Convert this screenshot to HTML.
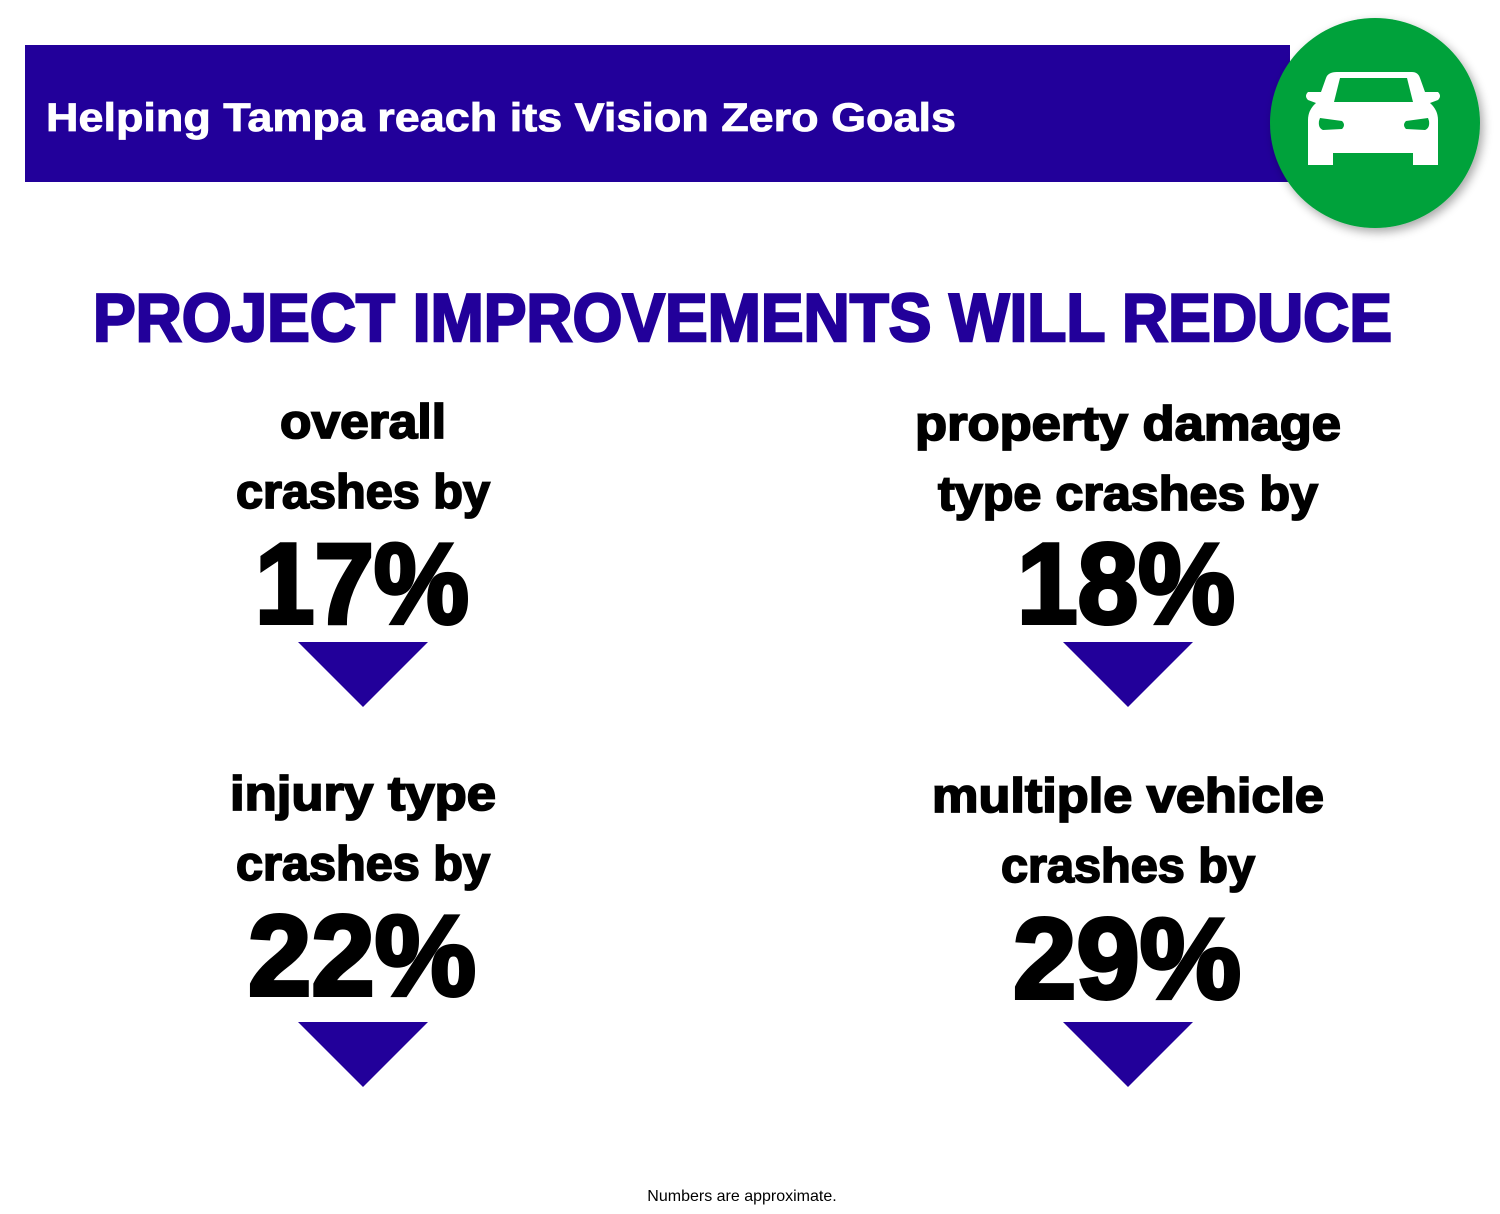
<!DOCTYPE html>
<html><head><meta charset="utf-8"><style>
html,body{margin:0;padding:0;background:#fff;}
svg{display:block;}
text{font-family:"Liberation Sans",sans-serif;font-weight:bold;}
</style></head><body>
<svg width="1500" height="1214" viewBox="0 0 1500 1214" xmlns="http://www.w3.org/2000/svg">
<defs>
<filter id="sh" x="-20%" y="-20%" width="140%" height="140%"><feGaussianBlur in="SourceAlpha" stdDeviation="5"/><feOffset dx="3" dy="4"/><feComponentTransfer><feFuncA type="linear" slope="0.35"/></feComponentTransfer><feMerge><feMergeNode/><feMergeNode in="SourceGraphic"/></feMerge></filter>
</defs>
<rect x="25" y="45" width="1265" height="137" fill="#22009a"/>
<text x="46" y="131" font-size="40" fill="#fff" stroke="#fff" stroke-width="0.8" textLength="910" lengthAdjust="spacingAndGlyphs">Helping Tampa reach its Vision Zero Goals</text>
<circle cx="1375" cy="123" r="105" fill="#00a23a" filter="url(#sh)"/>
<g fill="#fff">
<path d="M1337 72 H1412 Q1418 72 1420 78 L1425 92 L1438 92 Q1442 96 1438 100 L1430 103 Q1438 110 1438 120 V165 H1413 V153 H1333 V165 H1308 V120 Q1308 110 1316 103 L1308 100 Q1304 96 1308 92 L1321 92 L1326 78 Q1328 72 1337 72 Z"/>
</g>
<path d="M1340 78 H1407 L1413 102 H1334 Z" fill="#00a23a"/>
<path d="M1320 118 L1342 121 Q1346 125 1342 129 L1323 130 Q1318 128 1319 121 Z" fill="#00a23a"/>
<path d="M1428 118 L1406 121 Q1402 125 1406 129 L1425 130 Q1430 128 1429 121 Z" fill="#00a23a"/>
<text x="93" y="341" font-size="68" fill="#22009a" stroke="#22009a" stroke-width="2.5" textLength="1299" lengthAdjust="spacingAndGlyphs">PROJECT IMPROVEMENTS WILL REDUCE</text>
<g text-anchor="middle" fill="#000" stroke="#000">
<g stroke-width="1.8">
<text x="363" y="438" font-size="48" textLength="166" lengthAdjust="spacingAndGlyphs">overall</text>
<text x="363" y="508" font-size="48" textLength="254" lengthAdjust="spacingAndGlyphs">crashes by</text>
<text x="1128" y="440" font-size="48" textLength="426" lengthAdjust="spacingAndGlyphs">property damage</text>
<text x="1128" y="510" font-size="48" textLength="380" lengthAdjust="spacingAndGlyphs">type crashes by</text>
<text x="363" y="810" font-size="48" textLength="266" lengthAdjust="spacingAndGlyphs">injury type</text>
<text x="363" y="880" font-size="48" textLength="254" lengthAdjust="spacingAndGlyphs">crashes by</text>
<text x="1128" y="812" font-size="48" textLength="392" lengthAdjust="spacingAndGlyphs">multiple vehicle</text>
<text x="1128" y="882" font-size="48" textLength="254" lengthAdjust="spacingAndGlyphs">crashes by</text>
</g>
<g stroke-width="4">
<text x="362" y="623" font-size="114" textLength="214" lengthAdjust="spacingAndGlyphs">17%</text>
<text x="1126" y="623" font-size="114" textLength="218" lengthAdjust="spacingAndGlyphs">18%</text>
<text x="362" y="995" font-size="114" textLength="228" lengthAdjust="spacingAndGlyphs">22%</text>
<text x="1127" y="998" font-size="114" textLength="228" lengthAdjust="spacingAndGlyphs">29%</text>
</g>
<text x="742" y="1201" font-size="16" stroke="none" style="font-weight:normal">Numbers are approximate.</text>
</g>
<g fill="#22009a">
<polygon points="298,642 428,642 363,707"/>
<polygon points="1063,642 1193,642 1128,707"/>
<polygon points="298,1022 428,1022 363,1087"/>
<polygon points="1063,1022 1193,1022 1128,1087"/>
</g>
</svg>
</body></html>
